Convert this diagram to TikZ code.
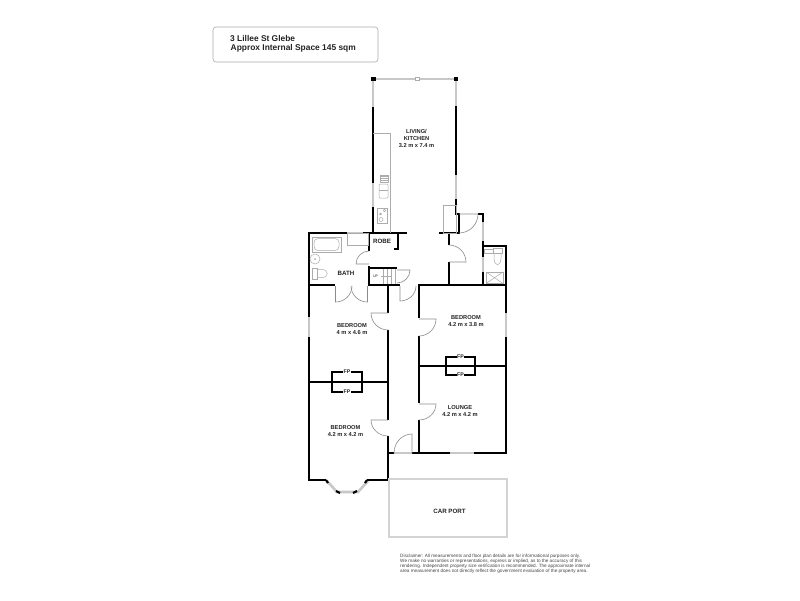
\documentclass[tikz,border=0pt]{standalone}
\usepackage{fontspec}
\setmainfont{Liberation Sans}
\usetikzlibrary{calc}
\definecolor{fixgray}{RGB}{172, 172, 172}
\definecolor{doorgray}{RGB}{140, 140, 140}
\definecolor{glassgray}{RGB}{200, 200, 200}
\definecolor{inkgray}{RGB}{35, 35, 35}
\tikzset{
  wall/.style={line width=2.2pt, black},
  thinwall/.style={line width=1.5pt, black},
  glass/.style={line width=2.6pt, glassgray},
  fixture/.style={line width=0.5pt, fixgray},
  doorswing/.style={line width=0.6pt, doorgray},
  roomlabel/.style={align=center, inner sep=0pt, text=inkgray, font=\fontsize{5.7}{6.9}\selectfont\bfseries},
  fplabel/.style={inner sep=0.6pt, fill=white, text=inkgray, font=\fontsize{5.2}{6}\selectfont\bfseries},
}
% leaf from hinge to tip, then swing from tip to the far jamb
\newcommand{\swingdoor}[3]{%
  \draw[doorswing] (#1) -- (#2) .. controls ($(#2)!0.55!($(#2)+(#3)-(#1)$)$) and ($(#3)!0.55!($(#2)+(#3)-(#1)$)$) .. (#3);
}
\begin{document}
\begin{tikzpicture}[x=1pt, y=-1pt]
  \useasboundingbox[fill=white] (0, 0) rectangle (800, 600);

  % title box
  \node[draw=fixgray, rounded corners=3pt, line width=0.6pt, minimum width=165pt, minimum height=35pt, inner sep=0pt] (titlebox) at (295.5, 44.5) {};
  \node[anchor=west, inner sep=0pt, text=inkgray, font=\fontsize{8.4}{10}\selectfont\bfseries] (titleone) at (230, 39) {3 Lillee St Glebe};
  \node[anchor=west, inner sep=0pt, text=inkgray, font=\fontsize{8.4}{10}\selectfont\bfseries] (titletwo) at (230.5, 48.5) {Approx Internal Space 145 sqm};

  % windows
  \draw[glass] (373, 79) -- (456, 79);
  \draw[glass] (373, 79) -- (373, 107);
  \draw[glass] (456, 79) -- (456, 106);
  \draw[glass] (373, 183) -- (373, 207);
  \draw[glass] (456, 175) -- (456, 199);
  \draw[glass] (347, 233) -- (363, 233);
  \draw[glass] (309, 317) -- (309, 337);
  \draw[glass] (506, 313) -- (506, 337);
  \draw[glass] (483, 222) -- (483, 241);
  \draw[glass] (483, 257) -- (483, 272);
  \draw[glass] (450, 453) -- (474, 453);
  \draw[glass] (394, 453) -- (412, 453);
  \draw[glass] (327, 481) -- (337, 492) -- (358, 492) -- (368, 481);
  \draw[draw=fixgray, fill=white, line width=0.4pt] (415.5, 77.5) rectangle (419, 80.5);

  % outer walls
  \draw[wall] (363, 233) -- (407, 233);
  \draw[wall] (347, 233) -- (309, 233) -- (309, 317);
  \draw[wall] (309, 337) -- (309, 480) -- (326, 480);
  \draw[wall] (367, 480) -- (388, 480) -- (388, 436);
  \draw[wall] (388, 420) -- (388, 330);
  \draw[wall] (388, 313) -- (388, 285);
  \draw[wall] (373, 107) -- (373, 183);
  \draw[wall] (373, 207) -- (373, 233);
  \draw[wall] (456, 106) -- (456, 175);
  \draw[wall] (456, 199) -- (456, 214) -- (459, 214) -- (459, 233) -- (439, 233);
  \draw[wall] (478, 214) -- (483, 214) -- (483, 222);
  \draw[wall] (483, 241) -- (483, 257);
  \draw[wall] (483, 272) -- (483, 285);
  \draw[wall] (483, 246) -- (506, 246) -- (506, 313);
  \draw[wall] (506, 337) -- (506, 453) -- (474, 453);
  \draw[wall] (450, 453) -- (419, 453) -- (419, 420);
  \draw[wall] (419, 403) -- (419, 336);
  \draw[wall] (419, 318) -- (419, 285) -- (506, 285);
  \draw[wall] (449, 233) -- (449, 245);
  \draw[wall] (449, 262) -- (449, 285);
  \draw[wall] (388, 453) -- (394, 453);
  \draw[wall] (412, 453) -- (419, 453);
  % bath and robe
  \draw[wall] (309, 285) -- (335, 285);
  \draw[wall] (368, 285) -- (400, 285);
  \draw[wall] (369, 233) -- (369, 251);
  \draw[wall] (369, 266) -- (369, 285);
  \draw[thinwall] (369, 268) -- (397, 268);
  \draw[wall] (398, 233) -- (398, 249) -- (394, 249);
  % bay window jambs
  \draw[wall] (326, 480) -- (328, 483);
  \draw[wall] (367, 480) -- (365, 483);
  \draw[wall] (336, 491) -- (340, 493);
  \draw[wall] (357, 491) -- (353, 493);
  % corner posts
  \fill (371, 77) rectangle (375.5, 81);
  \fill (453.5, 77) rectangle (458, 81);

  % party walls and fireplaces
  \draw[thinwall] (309, 382) -- (388, 382);
  \draw[thinwall] (419, 366) -- (506, 366);
  \draw[thinwall] (332, 372) rectangle (362, 392);
  \draw[thinwall] (446, 357) rectangle (475, 375);
  \node[fplabel] (fpleftup) at (347, 372) {FP};
  \node[fplabel] (fpleftdown) at (347, 392) {FP};
  \node[fplabel] (fprightup) at (460.5, 357) {FP};
  \node[fplabel] (fprightdown) at (460.5, 375) {FP};

  % doors
  \swingdoor{335.5,286}{335.5,302}{352,286}
  \swingdoor{367.5,286}{367.5,302}{351,286}
  \swingdoor{369,264}{356,264}{369,251}
  \swingdoor{397,270}{410,270}{397,283}
  \swingdoor{400,286}{400,301}{416,286}
  \swingdoor{388,313}{371,313}{388,330}
  \swingdoor{419,319}{436,319}{419,336}
  \swingdoor{419,404}{436,404}{419,420}
  \swingdoor{388,420}{371,420}{388,436}
  \swingdoor{412,453}{412,434}{394,453}
  \swingdoor{449,262}{466,262}{449,245}
  \swingdoor{459,214}{478,214}{459,233}

  % kitchen fittings
  \draw[fixture] (373, 133) -- (390.5, 133) -- (390.5, 233);
  \draw[fixture] (380, 175) rectangle (388, 182);
  \foreach \ly in {176, 178, 180} {
    \draw[fixture] (380, \ly) -- (388, \ly);
  }
  \draw[fixture, rounded corners=1pt] (379, 184) rectangle (388, 198);
  \draw[fixture] (379, 190.5) -- (388, 190.5);
  \draw[fixture] (377, 208) rectangle (387, 223);
  \fill[fixgray] (380.5, 214) circle (1.3pt);
  \draw[fixture] (384.5, 210.5) circle (1.3pt);
  \draw[fixture] (381, 219.5) circle (2pt);
  \draw[fixture] (347, 233) rectangle (368, 245);
  \draw[fixture] (443.5, 205) rectangle (456, 233);

  % bath fittings
  \draw[fixture] (312, 237) rectangle (341, 252);
  \draw[fixture, rounded corners=4pt] (314, 238.5) rectangle (339, 250.5);
  \draw[fixture] (315, 259) circle (5pt);
  \fill[fixgray] (315, 259) circle (1pt);
  \draw[fixture] (312, 268) rectangle (317, 279);
  \draw[fixture] (317, 269.5) -- (322, 269.5) .. controls (329, 269.5) and (329, 277.5) .. (322, 277.5) -- (317, 277.5);

  % stairs
  \foreach \sx in {383, 387, 391, 395} {
    \draw[fixture] (\sx, 269) -- (\sx, 284);
  }
  \draw[fixture] (381, 276.5) -- (392, 276.5);
  \node[inner sep=0pt, text=inkgray, font=\fontsize{3.6}{4}\selectfont] (stairup) at (375.5, 276) {UP};

  % ensuite fittings
  \draw[fixture] (484, 249) rectangle (493, 253);
  \draw[fixture] (493, 248) rectangle (502, 253);
  \draw[fixture] (494, 253) -- (494, 258) .. controls (494, 267) and (501, 267) .. (501, 258) -- (501, 253);
  \draw[fixture] (486, 272) rectangle (503, 283.5);
  \draw[fixture] (486, 272) -- (503, 283.5);
  \draw[fixture] (503, 272) -- (486, 283.5);

  % car port
  \draw[line width=2pt, glassgray!80] (389, 479) rectangle (507, 537);

  % room labels
  \node[roomlabel] (livinglabel) at (416.5, 138.5) {LIVING/\\KITCHEN\\3.2 m x 7.4 m};
  \node[roomlabel] (robelabel) at (382, 241) {\fontsize{6.2}{7}\selectfont ROBE};
  \node[roomlabel] (bathlabel) at (346, 273) {\fontsize{6.2}{7}\selectfont BATH};
  \node[roomlabel] (bedroomone) at (352, 329) {BEDROOM\\4 m x 4.6 m};
  \node[roomlabel] (bedroomtwo) at (466, 321) {BEDROOM\\4.2 m x 3.8 m};
  \node[roomlabel] (bedroomthree) at (345.5, 431) {BEDROOM\\4.2 m x 4.2 m};
  \node[roomlabel] (loungelabel) at (460, 411) {LOUNGE\\4.2 m x 4.2 m};
  \node[roomlabel] (carportlabel) at (449.5, 511) {\fontsize{6.2}{7}\selectfont CAR PORT};

  % disclaimer
  \node[anchor=north west, align=left, inner sep=0pt, text=inkgray!85, font=\fontsize{4.65}{5}\selectfont] (disclaimer) at (400, 553.5) {
    Disclaimer: All measurements and floor plan details are for informational purposes only.\\
    We  make no warranties or representations, express or implied, as to the accuracy of this\\
    rendering. Independent property size verification is recommended. The approximate internal\\
    area measurement does not directly reflect the government evaluation of the property area.
  };
\end{tikzpicture}
\end{document}
